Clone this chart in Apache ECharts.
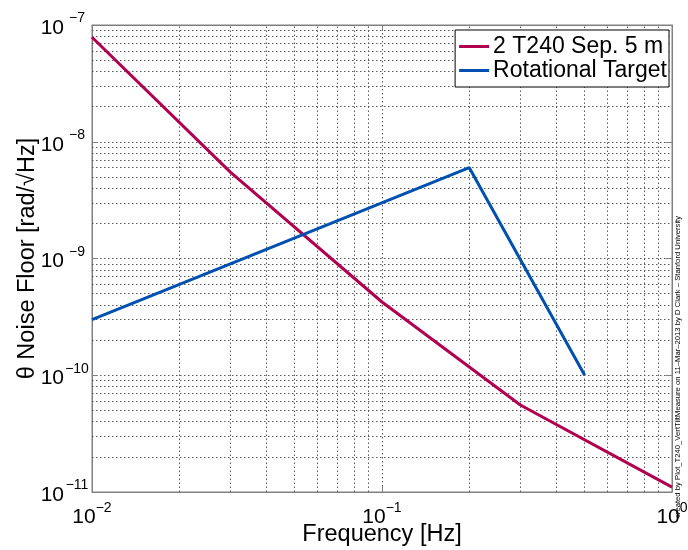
<!DOCTYPE html>
<html>
<head>
<meta charset="utf-8">
<script src="https://cdn.jsdelivr.net/npm/echarts@6/dist/echarts.min.js"></script>
<style>
html,body{margin:0;padding:0;background:#fff;}
#chart{width:688px;height:550px;}
</style>
</head>
<body>
<div id="chart"></div>
<script>
// ---- data ----
var seriesNames = ['2 T240 Sep. 5 m', 'Rotational Target'];
var t240Freq = [0.01, 0.03, 0.1, 0.3, 1];
var t240Noise = [7.85e-8, 5.5e-9, 4.24e-10, 5.56e-11, 1.1e-11];
var targetFreq = [0.01, 0.2, 0.5];
var targetNoise = [3e-10, 6e-9, 1e-10];
var xMin = 0.01, xMax = 1;
var yMin = 1e-11, yMax = 1e-7;
var xTitle = 'Frequency [Hz]';
var yTitle = 'θ Noise Floor [rad/√Hz]';
var creditText = 'created by Plot_T240_VertTiltMeasure on 11\u2013Mar\u20132013 by D Clark \u2013 Stanford University';

function pairs(xs, ys) { return xs.map(function (x, i) { return [x, ys[i]]; }); }

// minor grid positions (2..9 within each decade)
var minorX = [], minorY = [];
for (var d = -2; d < 0; d++) for (var m = 2; m <= 9; m++) minorX.push(m * Math.pow(10, d));
for (var d2 = -11; d2 < -7; d2++) for (var m2 = 2; m2 <= 9; m2++) minorY.push(m2 * Math.pow(10, d2));

var gridDot = { color: '#5a5a5a', type: [1.5, 2.5], width: 1 };
var markData = minorX.map(function (v) { return [{ coord: [v, yMin] }, { coord: [v, yMax] }]; })
  .concat(minorY.map(function (v) { return [{ coord: [xMin, v] }, { coord: [xMax, v] }]; }));

function expLabel(v) {
  var e = Math.round(Math.log10(v));
  return '{b|10}{e|' + (e < 0 ? '\u2212' + (-e) : e) + '}';
}
var font = '"Liberation Sans", Arial, Helvetica, sans-serif';
var tickStyle = { inside: true, length: 6, lineStyle: { color: '#808080' } };

var chart = echarts.init(document.getElementById('chart'), null, { renderer: 'canvas' });
chart.setOption({
  animation: false,
  backgroundColor: '#fff',
  textStyle: { fontFamily: font },
  grid: { left: 92, right: 16, top: 25, bottom: 58, show: true, borderColor: '#808080', borderWidth: 1, containLabel: false, outerBoundsMode: 'none' },
  legend: {
    data: seriesNames,
    orient: 'vertical',
    right: 19, top: 30,
    itemWidth: 30, itemHeight: 3,
    icon: 'rect',
    itemGap: 1,
    padding: [5, 2, 5, 4],
    borderColor: '#000', borderWidth: 1,
    backgroundColor: '#fff',
    textStyle: { fontSize: 23, color: '#000', fontFamily: font, padding: [0, 0, 0, -1] }
  },
  xAxis: [{
    type: 'log', logBase: 10, min: xMin, max: xMax,
    name: xTitle, nameLocation: 'middle', nameGap: 31, nameMoveOverlap: false,
    nameTextStyle: { fontSize: 23.5, color: '#000', fontFamily: font },
    axisLine: { lineStyle: { color: '#808080' } },
    axisTick: tickStyle,
    axisLabel: {
      formatter: expLabel, margin: 9, color: '#000',
      rich: {
        b: { fontSize: 21, fontFamily: font, color: '#000', verticalAlign: 'bottom', padding: [6, 0, 0, 0] },
        e: { fontSize: 14, fontFamily: font, color: '#000', verticalAlign: 'top' }
      }
    },
    splitLine: { show: true, lineStyle: gridDot }
  }, {
    type: 'log', logBase: 10, min: xMin, max: xMax, position: 'top',
    axisLine: { lineStyle: { color: '#808080' } },
    axisTick: tickStyle, axisLabel: { show: false }, splitLine: { show: false }
  }],
  yAxis: [{
    type: 'log', logBase: 10, min: yMin, max: yMax,
    name: yTitle, nameLocation: 'middle', nameGap: 52, nameRotate: 90, nameMoveOverlap: false,
    nameTextStyle: { fontSize: 23.5, color: '#000', fontFamily: font },
    axisLine: { lineStyle: { color: '#808080' } },
    axisTick: tickStyle,
    axisLabel: {
      formatter: expLabel, margin: 2, color: '#000',
      rich: {
        b: { fontSize: 21, fontFamily: font, color: '#000', verticalAlign: 'bottom', padding: [6, 0, 0, 0] },
        e: { fontSize: 14, fontFamily: font, color: '#000', verticalAlign: 'top', width: 26, align: 'left' }
      }
    },
    splitLine: { show: true, lineStyle: gridDot }
  }, {
    type: 'log', logBase: 10, min: yMin, max: yMax, position: 'right',
    axisLine: { lineStyle: { color: '#808080' } },
    axisTick: tickStyle, axisLabel: { show: false }, splitLine: { show: false }
  }],
  graphic: [{
    type: 'text', x: 678, y: 518, rotation: Math.PI / 2, silent: true,
    style: { text: creditText, fontSize: 7.7, fill: '#000', fontFamily: font, textAlign: 'left', textVerticalAlign: 'middle' }
  }],
  series: [
    {
      name: seriesNames[0], type: 'line', data: pairs(t240Freq, t240Noise),
      showSymbol: false, symbol: 'none', z: 3,
      lineStyle: { color: '#B0004F', width: 3 }, itemStyle: { color: '#B0004F' },
      markLine: { silent: true, symbol: 'none', label: { show: false }, lineStyle: gridDot, data: markData, z: 1, animation: false }
    },
    {
      name: seriesNames[1], type: 'line', data: pairs(targetFreq, targetNoise),
      showSymbol: false, symbol: 'none', z: 4,
      lineStyle: { color: '#0050B0', width: 3 }, itemStyle: { color: '#0050B0' }
    }
  ]
});
</script>
</body>
</html>
